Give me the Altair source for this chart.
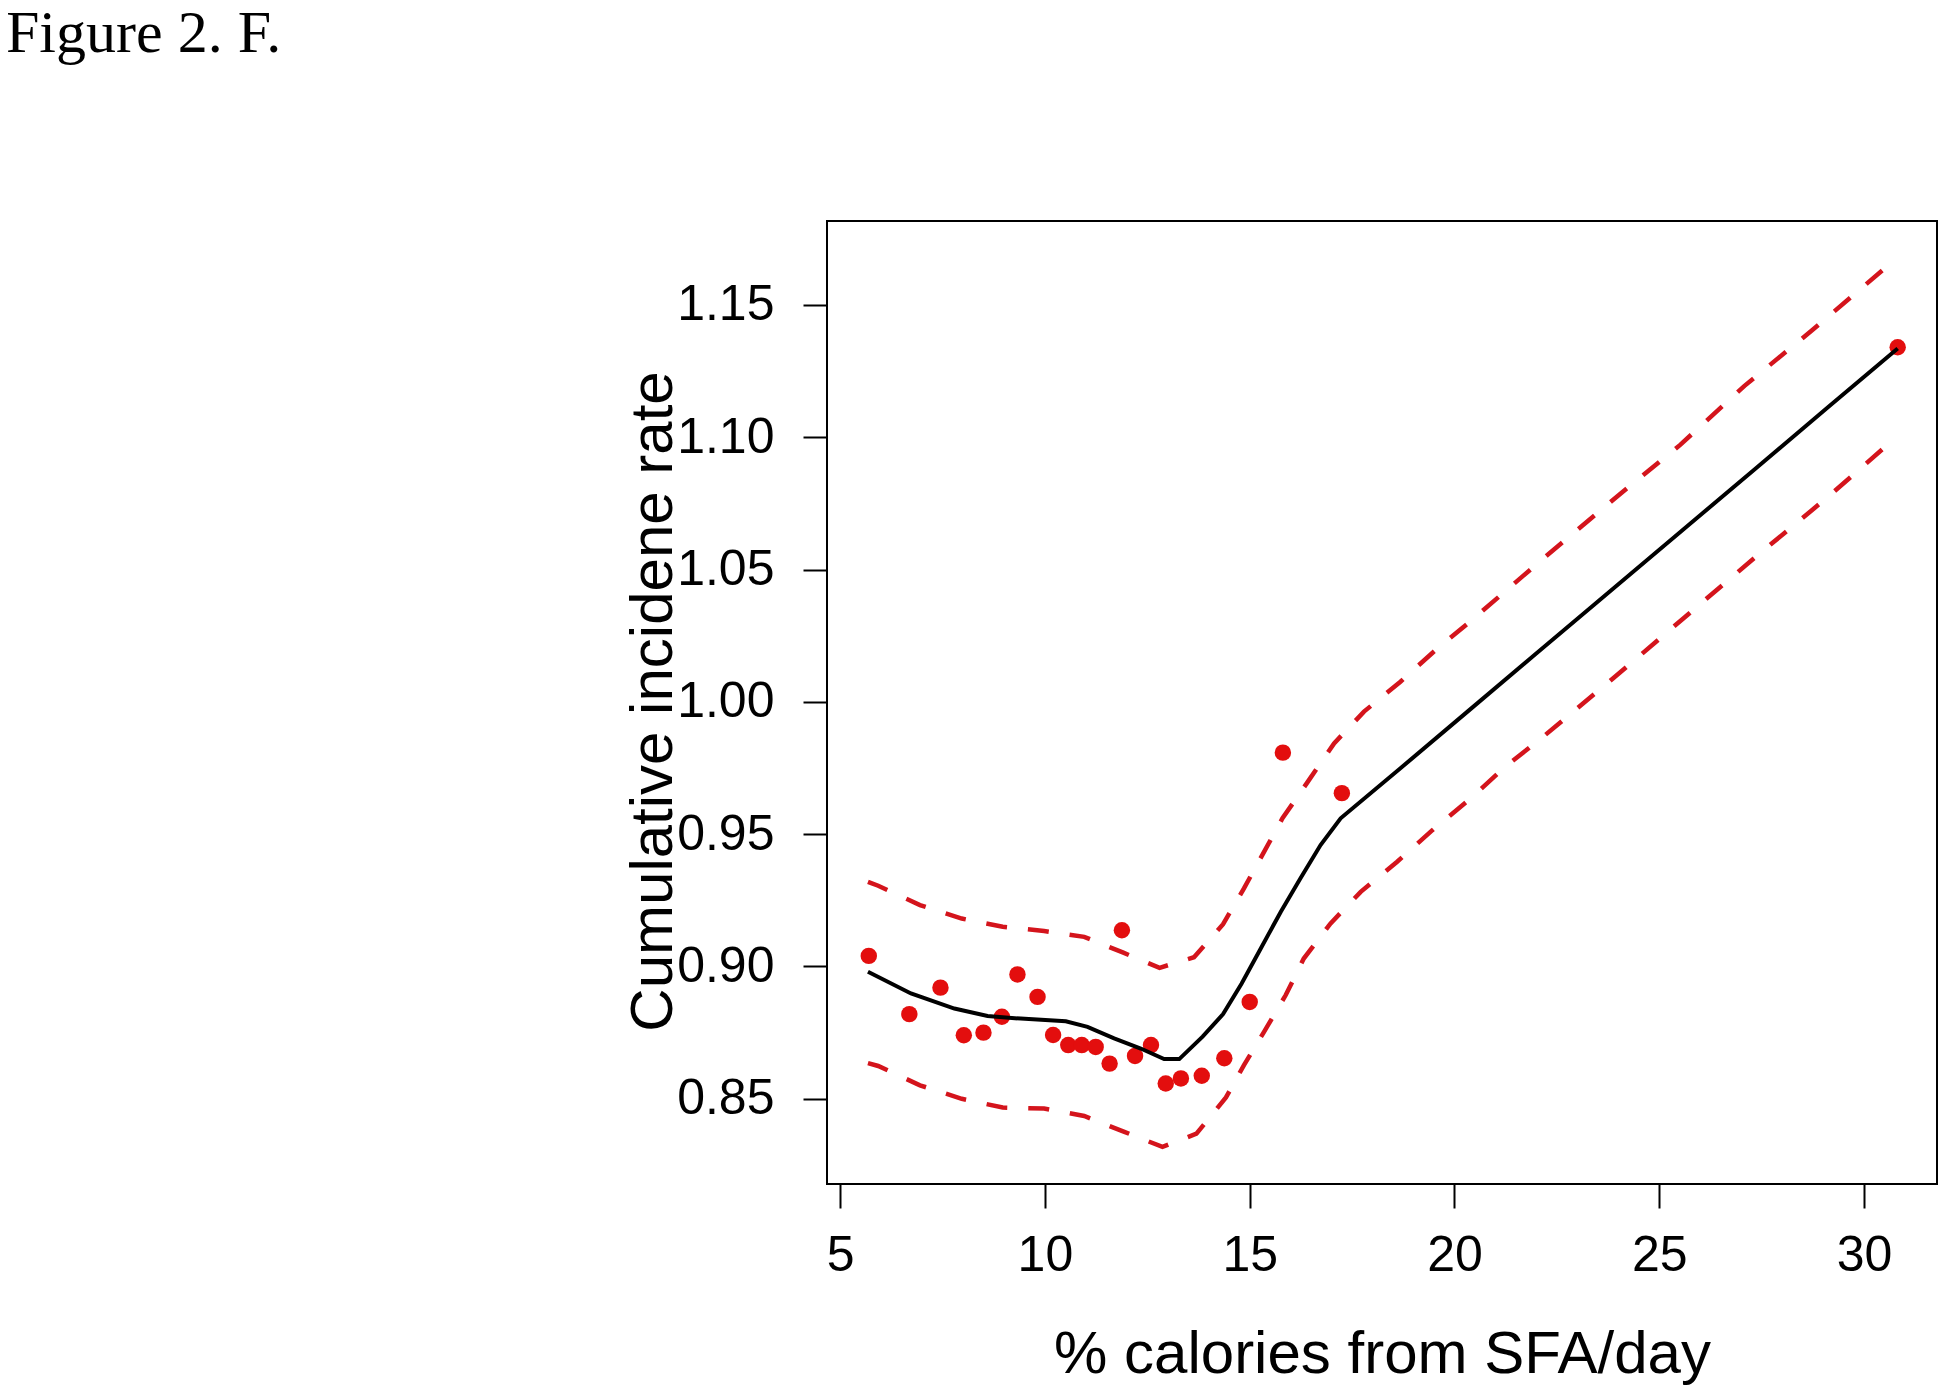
import altair as alt
import pandas as pd

# Observed points (% calories from SFA/day, cumulative incidence rate)
pts_x = [5.70, 6.69, 7.45, 8.02, 8.50, 8.95, 9.33, 9.82, 10.20, 10.57, 10.90, 11.24,
         11.58, 11.88, 12.20, 12.59, 12.95, 13.32, 13.83, 14.38, 15.00, 15.81, 17.25, 30.82]
pts_y = [0.904, 0.882, 0.892, 0.874, 0.875, 0.881, 0.897, 0.8885, 0.8741, 0.8703, 0.8703, 0.8696,
         0.8633, 0.9137, 0.8662, 0.8703, 0.8558, 0.8577, 0.8587, 0.8653, 0.8866, 0.9808, 0.9655, 1.134]

# Fitted curve (black)
fit_x = [5.68, 6.73, 7.79, 8.60, 9.41, 10.51, 11.04, 11.69, 12.34, 12.91, 13.28, 13.85,
         14.35, 14.80, 15.27, 15.76, 16.24, 16.73, 17.22, 18.68, 20.31, 21.93, 23.40,
         25.60, 27.36, 29.11, 30.82]
fit_y = [0.898, 0.8898, 0.8841, 0.8813, 0.8803, 0.8793, 0.8772, 0.8728, 0.869, 0.865, 0.865, 0.8735,
         0.8820, 0.8935, 0.9068, 0.9207, 0.9333, 0.9459, 0.956, 0.9749, 0.9962, 1.0174, 1.0366,
         1.0653, 1.0883, 1.1112, 1.1335]

# Upper confidence limit (red dashed)
up_x = [5.68, 5.93, 6.95, 7.97, 8.97, 9.98, 10.96, 11.90, 12.80, 13.64, 14.35, 14.86, 15.35,
        15.80, 16.45, 17.06, 17.79, 18.68, 19.54, 20.43, 22.20, 23.86, 25.51, 27.08, 28.73, 30.82]
up_y = [0.932, 0.9305, 0.9232, 0.9181, 0.915, 0.9134, 0.9112, 0.9053, 0.8995, 0.9035, 0.916, 0.9295,
        0.9433, 0.956, 0.9705, 0.9843, 0.9963, 1.0076, 1.0196, 1.031, 1.0546, 1.0762, 1.0971,
        1.1194, 1.1404, 1.168]

# Lower confidence limit (red dashed)
lo_x = [5.68, 5.93, 6.95, 7.97, 8.97, 9.98, 10.96, 11.94, 12.87, 13.70, 14.42, 14.86, 15.35,
        15.88, 16.32, 16.97, 17.71, 18.60, 19.46, 20.35, 21.24, 22.10, 23.86, 25.60, 27.34,
        29.13, 30.82]
lo_y = [0.8635, 0.8624, 0.8551, 0.85, 0.8467, 0.8463, 0.8435, 0.8375, 0.8318, 0.8368, 0.8505,
        0.8627, 0.8753, 0.8892, 0.903, 0.9162, 0.9282, 0.9396, 0.9515, 0.9629, 0.9755, 0.9860,
        1.0087, 1.0317, 1.0546, 1.0776, 1.1005]

x_ticks = [5, 10, 15, 20, 25, 30]
y_ticks = [0.85, 0.90, 0.95, 1.00, 1.05, 1.10, 1.15]

pts = pd.DataFrame({"x": pts_x, "y": pts_y})
fit = pd.DataFrame({"x": fit_x, "y": fit_y})
band = pd.concat([
    pd.DataFrame({"x": up_x, "y": up_y, "b": "upper"}),
    pd.DataFrame({"x": lo_x, "y": lo_y, "b": "lower"}),
])

PT_RED = "#e30e0e"
LINE_RED = "#d4141c"
FONT = "Liberation Sans"

xs = alt.Scale(domain=[4.68, 31.78], nice=False, zero=False)
ys = alt.Scale(domain=[0.8178, 1.1817], nice=False, zero=False)

x_axis = alt.Axis(
    values=x_ticks, title="% calories from SFA/day", grid=False, domain=False,
    tickSize=24, tickWidth=2, tickColor="black",
    labelFont=FONT, labelFontSize=50, labelColor="black", labelPadding=22, labelFlush=False,
    titleFont=FONT, titleFontSize=60, titleFontWeight="normal", titleColor="black",
    titleY=188, titleBaseline="alphabetic",
)
y_axis = alt.Axis(
    values=y_ticks, format=".2f", title="Cumulative incidene rate", grid=False, domain=False,
    tickSize=24, tickWidth=2, tickColor="black",
    labelFont=FONT, labelFontSize=50, labelColor="black", labelPadding=29, labelFlush=False,
    titleFont=FONT, titleFontSize=60, titleFontWeight="normal", titleColor="black",
    titleX=-156, titleY=480, titleAngle=270, titleAlign="center", titleBaseline="alphabetic",
)

X = alt.X("x:Q", scale=xs, axis=x_axis)
Y = alt.Y("y:Q", scale=ys, axis=y_axis)

points = alt.Chart(pts).mark_circle(size=270, color=PT_RED, opacity=1).encode(x=X, y=Y)
fitline = alt.Chart(fit).mark_line(color="black", strokeWidth=4).encode(x=X, y=Y)
bands = alt.Chart(band).mark_line(color=LINE_RED, strokeWidth=4.5, strokeDash=[21, 21]).encode(
    x=X, y=Y, detail="b:N",
)

chart = alt.layer(points, fitline, bands).properties(
    width=1110,
    height=963,
    padding={"left": 819, "top": 213, "right": 5, "bottom": 203},
    autosize=alt.AutoSizeParams(type="none"),
    title=alt.TitleParams(
        text="Figure 2. F.", anchor="start", frame="group", orient="top",
        dx=-821, offset=109, baseline="alphabetic",
        font="Liberation Serif", fontSize=60, fontWeight="normal", color="black",
    ),
).configure_view(stroke="black", strokeWidth=2)

chart.save("out.html", embed_options={"renderer": "svg", "actions": False})
